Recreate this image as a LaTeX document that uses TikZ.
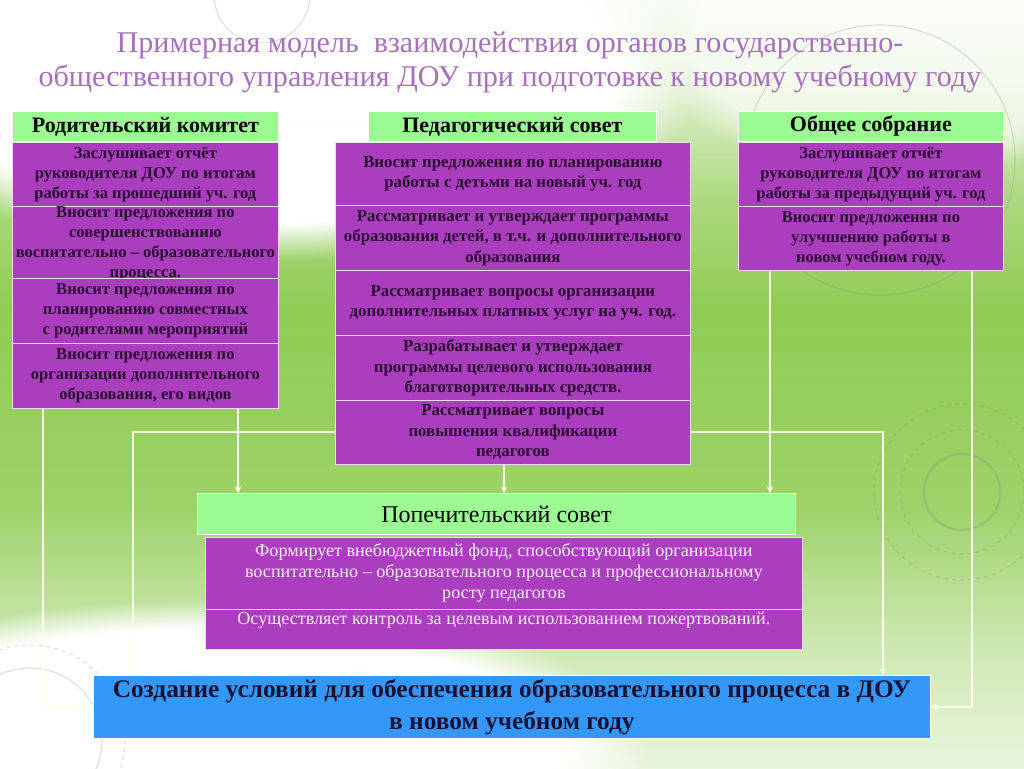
\documentclass[tikz,border=0pt]{standalone}
\usepackage{fontspec}
\setmainfont{Liberation Serif}
\usetikzlibrary{arrows.meta,fadings}
\definecolor{bggreen}{RGB}{144,204,84}
\definecolor{hdrgreen}{RGB}{156,250,146}
\definecolor{purp}{RGB}{170,62,190}
\definecolor{ptext}{RGB}{42,10,48}
\definecolor{zblue}{RGB}{52,152,250}
\definecolor{ttl}{RGB}{168,112,188}
\definecolor{ztext}{RGB}{18,18,52}
\pgfdeclareverticalshading{bgv}{100bp}{color(0bp)=(bggreen!20!white); color(25bp)=(bggreen!20!white); color(33bp)=(bggreen!45!white); color(42bp)=(bggreen!88!white); color(55bp)=(bggreen); color(62bp)=(bggreen!75!white); color(69bp)=(bggreen!30!white); color(75bp)=(bggreen!8!white); color(100bp)=(bggreen!8!white)}
\tikzset{
  sz/.style 2 args={minimum width=#1*0.75pt, minimum height=#2*0.75pt},
  hdr/.style={draw=white, line width=0.6pt, fill=hdrgreen, inner sep=0pt, anchor=north west, text=black, font=\fontsize{16.5}{18}\selectfont\bfseries},
  pbox/.style={draw=white!80!purp, line width=0.6pt, fill=purp, inner sep=0pt, anchor=north west, align=center, text=ptext, font=\fontsize{12.4}{15}\selectfont\bfseries},
  ptxt/.style={inner sep=0pt, align=center, text=ptext, font=\fontsize{12.4}{15}\selectfont\bfseries},
  mbox/.style={pbox, font=\fontsize{12.6}{15.4}\selectfont\bfseries},
  wbox/.style={pbox, text=white!92!purp, font=\fontsize{13.6}{15.75}\selectfont},
  wtxt/.style={inner sep=0pt, align=center, text=white!92!purp, font=\fontsize{13.6}{15.75}\selectfont},
  conn/.style={draw=white!92!yellow, line width=0.9pt},
  arr/.style={conn, -{Triangle[width=4.5pt,length=4.5pt]}},
  deco/.style={draw=black!45, opacity=0.28, line width=0.8pt},
}
\begin{document}
\begin{tikzpicture}[x=0.75pt, y=-0.75pt]
\useasboundingbox (0,0) rectangle (1024,768);
% background
\shade[shading=bgv] (0,0) rectangle (1024,768);
\fill[white, path fading=circle with fuzzy edge 20 percent] (-150,-120) rectangle (700,260);
\fill[white, path fading=circle with fuzzy edge 20 percent] (-250,600) rectangle (650,900);
\fill[white, opacity=0.6, path fading=circle with fuzzy edge 20 percent] (650,-100) rectangle (1150,180);
% decorations
\draw[deco] (262,-5) circle (48);
\draw[deco] (880,160) circle (135);
\draw[deco, line width=1.6pt] (962,492) circle (38);
\draw[deco, dashed] (962,492) circle (62);
\draw[deco, dashed] (962,492) circle (88);
\draw[deco] (30,740) circle (72);
\draw[deco, dashed] (30,740) circle (95);
% title
\node[align=center, text=ttl, font=\fontsize{22.6}{25.5}\selectfont] (title) at (510,62)
  {Примерная модель\ \ взаимодействия органов государственно-\\общественного управления ДОУ при подготовке к новому учебному году};
% connectors
\coordinate (c0) at (43,0);
\coordinate (c1) at (133,432);
\coordinate (xa) at (238,0);
\coordinate (xb) at (504,0);
\coordinate (xc) at (770,0);
\coordinate (c2) at (883,432);
\coordinate (c3) at (972,0);
% left column
\node[hdr, sz={266}{30}] (r0) at (12,111) {Родительский комитет};
\node[pbox, sz={266}{64}] (r1) at (12,142) {Заслушивает отчёт\\руководителя ДОУ по итогам\\работы за прошедший уч. год};
\node[pbox, sz={266}{72}] (r2) at (12,206) {};
\node[ptxt, anchor=north] (r2t) at ([yshift=-0.5pt]r2.north) {Вносит предложения по\\совершенствованию\\воспитательно – образовательного\\процесса.};
\node[pbox, sz={266}{65}] (r3) at (12,278) {Вносит предложения по\\планированию совместных\\с родителями мероприятий};
\node[pbox, sz={266}{65}] (r4) at (12,343) {Вносит предложения по\\организации дополнительного\\образования, его видов};
% middle column
\node[hdr, sz={288}{30}] (p0) at (368,111) {Педагогический совет};
\node[mbox, sz={355}{63}] (p1) at (335,142) {Вносит предложения по планированию\\работы с детьми на новый уч. год};
\node[mbox, sz={355}{65}] (p2) at (335,205) {Рассматривает и утверждает программы\\образования детей, в т.ч. и дополнительного\\образования};
\node[mbox, sz={355}{65}] (p3) at (335,270) {Рассматривает вопросы организации\\дополнительных платных услуг на уч. год.};
\node[mbox, sz={355}{65}] (p4) at (335,335) {Разрабатывает и утверждает\\программы целевого использования\\благотворительных средств.};
\node[mbox, sz={355}{64}] (p5) at (335,400) {Рассматривает вопросы\\повышения квалификации\\педагогов};
% right column
\node[hdr, sz={265}{30}] (o0) at (738,111) {Общее собрание};
\node[pbox, sz={265}{64}] (o1) at (738,142) {Заслушивает отчёт\\руководителя ДОУ по итогам\\работы за предыдущий уч. год};
\node[pbox, sz={265}{64}] (o2) at (738,206) {Вносит предложения по\\улучшению работы в\\новом учебном году.};
% trustees
\node[hdr, sz={598}{41}, font=\fontsize{18}{20}\selectfont] (t0) at (197,493) {Попечительский совет};
\node[wbox, sz={597}{72}] (t1) at (205,537) {Формирует внебюджетный фонд, способствующий организации\\воспитательно – образовательного процесса и профессиональному\\росту педагогов};
\node[wbox, sz={597}{40}] (t2) at (205,609) {};
\node[wtxt, anchor=north] (t2t) at ([yshift=-2pt]t2.north) {Осуществляет контроль за целевым использованием пожертвований.};
% result
\node[draw=white, line width=0.6pt, fill=zblue, inner sep=0pt, anchor=north west, sz={837}{63}, align=center, text=ztext, font=\fontsize{19}{24}\selectfont\bfseries] (z) at (93,675) {Создание условий для обеспечения образовательного процесса в ДОУ\\в новом учебном году};
% arrows
\draw[arr] (r0) -- (p0);
\draw[arr] (r4.south -| c0) -- (c0 |- z.west) -- (z.west);
\draw[arr] (c1 -| p5.west) -- (c1) -- (c1 |- z.north);
\draw[arr] (r4.south -| xa) -- (xa |- t0.north);
\draw[arr] (p5.south -| xb) -- (xb |- t0.north);
\draw[arr] (o2.south -| xc) -- (xc |- t0.north);
\draw[arr] (c2 -| p5.east) -- (c2) -- (c2 |- z.north);
\draw[arr] (o2.south -| c3) -- (c3 |- z.east) -- (z.east);
\end{tikzpicture}
\end{document}
